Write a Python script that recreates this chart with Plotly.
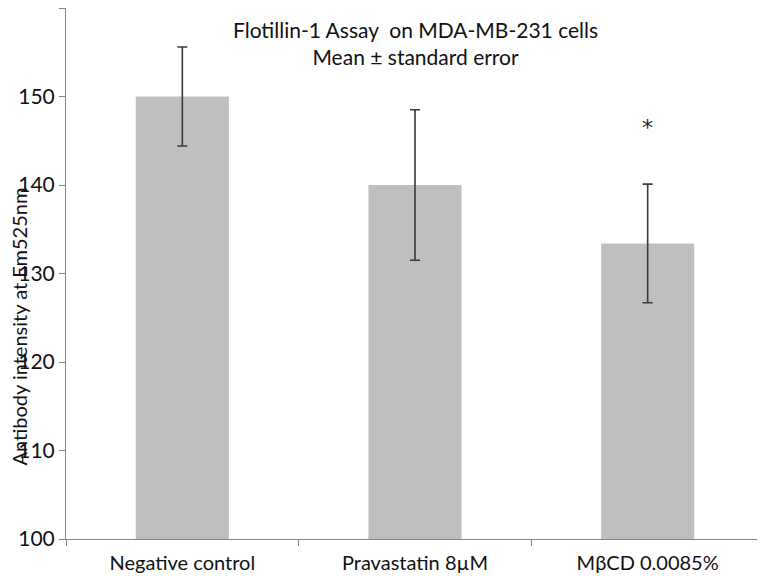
import plotly.graph_objects as go

categories = ["Negative control", "Pravastatin 8µM", "MβCD 0.0085%"]
means = [150.0, 140.0, 133.4]
errors = [5.6, 8.5, 6.7]
y_ticks = [100, 110, 120, 130, 140, 150, 160]
star_label = "*"
star_y = 147.0

FONT = "Lato, Open Sans, sans-serif"

fig = go.Figure()
fig.add_trace(go.Bar(
    x=categories, y=means,
    marker=dict(color="#bfbfbf", line=dict(width=0)),
    width=0.4,
    error_y=dict(type="data", array=errors, visible=True,
                 color="#3a3a3a", thickness=1.6, width=5),
))

fig.add_annotation(x=categories[2], y=star_y, text=star_label, showarrow=False,
                   font=dict(family="DejaVu Sans, sans-serif", size=22, color="#222"),
                   yanchor="middle", yshift=-4)

fig.add_annotation(xref="paper", yref="paper", x=0.5, y=1.0, yshift=-7,
                   text="Flotillin-1 Assay  on MDA-MB-231 cells<br>Mean ± standard error",
                   showarrow=False, yanchor="top", align="center",
                   font=dict(family=FONT, size=21, color="#111"))

fig.add_annotation(xref="paper", yref="paper", x=0, xshift=-47, y=0.40,
                   text="Antibody intensity at Em525nm", textangle=-90,
                   showarrow=False, xanchor="center", yanchor="middle",
                   font=dict(family=FONT, size=20, color="#111"))

fig.update_layout(
    width=765, height=576,
    margin=dict(l=58, r=9, t=0, b=45),
    plot_bgcolor="white", paper_bgcolor="white",
    showlegend=False,
    font=dict(family=FONT, color="#111"),
    xaxis=dict(range=[-0.5, 2.5], showline=True, linecolor="#868686", linewidth=1,
               ticks="outside", tickson="boundaries", ticklen=6, tickcolor="#868686",
               tickfont=dict(size=20, family=FONT, color="#111"), showgrid=False,
               ticklabelstandoff=6),
    yaxis=dict(range=[100, 160], tickvals=y_ticks, showline=True, linecolor="#868686",
               linewidth=1, ticks="outside", ticklen=6, tickcolor="#868686",
               tickfont=dict(size=21, family=FONT, color="#111"), showgrid=False,
               zeroline=False),
)

fig.write_html("out.html")
